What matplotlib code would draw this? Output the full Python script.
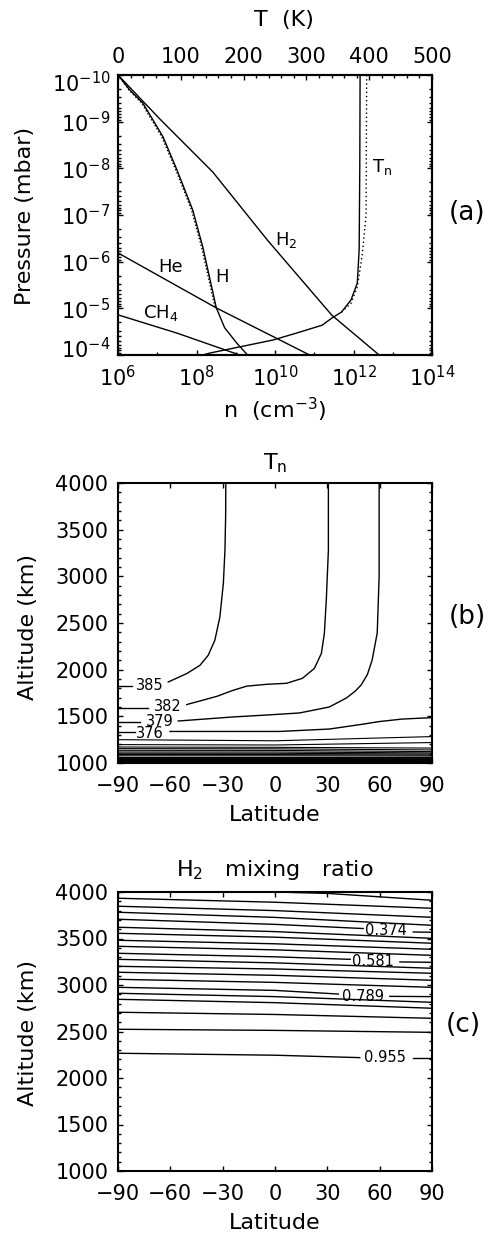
import numpy as np
import matplotlib
matplotlib.use("Agg")
import matplotlib.pyplot as plt
import matplotlib.transforms as mtransforms
from matplotlib.ticker import FixedLocator, NullFormatter, MultipleLocator, LogLocator

plt.rcParams['font.family'] = ['DejaVu Sans']
plt.rcParams['mathtext.fontset'] = 'dejavusans'

# ---------------- panel (a): density and temperature profiles ----------------
# number densities n (cm^-3) against pressure (mbar)
h2_n = [1e6, 1.2e7, 2.6e8, 6.5e9, 2.8e11, 4.5e12]
h2_p = [1e-10, 9.0e-10, 1.2e-8, 3.5e-7, 1.4e-5, 1e-4]

h_n = [1e6, 2.0e6, 4.3e6, 1.4e7, 3.2e7, 8.0e7, 1.45e8, 3.2e8, 5.2e8, 1.05e9, 2.0e9]
h_p = [1e-10, 2.1e-10, 4e-10, 2.1e-9, 1.1e-8, 7.8e-8, 4.9e-7, 9.8e-6, 2.6e-5, 5.5e-5, 1e-4]
h_dot_n = [1e6, 1.9e6, 4.0e6, 1.3e7, 3.0e7, 7.5e7, 1.35e8, 3.0e8]
h_dot_p = [1e-10, 2.1e-10, 4e-10, 2.1e-9, 1.1e-8, 7.8e-8, 4.9e-7, 9.8e-6]

he_n = [1e6, 3.2e8, 7.6e10]
he_p = [6.5e-7, 9.8e-6, 1e-4]

ch4_n = [1e6, 3.2e7, 1.26e9]
ch4_p = [1.38e-5, 3.4e-5, 1e-4]

# neutral temperature (K) against pressure, two model runs
tn_T = [385.5, 385, 384, 381, 371, 356, 341, 325, 284, 246, 146, 135]
tn_p = [1e-10, 1e-8, 5.6e-7, 2.9e-6, 6.6e-6, 1.2e-5, 1.6e-5, 2.3e-5, 3.4e-5, 4.8e-5, 9.1e-5, 1e-4]
tn_dot_T = [396, 395, 389, 381, 371, 356]
tn_dot_p = [1e-10, 1e-7, 7e-7, 3.5e-6, 7.8e-6, 1.2e-5]

# ---------------- panel (b): Tn contours (latitude, altitude km) ----------------
tn385_left_lat = [-90, -82.2]
tn385_left_alt = [1825, 1825]
tn385_lat = [-61.2, -50.6, -43, -38.3, -34.5, -31.6, -29.6, -28.7, -28.3, -28.2]
tn385_alt = [1868, 1958, 2047, 2154, 2314, 2564, 2925, 3279, 3636, 4000]

tn382_left_lat = [-90, -72.8]
tn382_left_alt = [1585, 1585]
tn382_lat = [-50.6, -33.2, -24, -16.3, -4.9, 6.6, 15.7, 22.6, 26.6, 28.3, 29.4, 30.6, 30.6]
tn382_alt = [1626, 1715, 1779, 1823, 1843, 1854, 1907, 2014, 2175, 2389, 2743, 3279, 4000]

tn379_left_lat = [-90, -77.4]
tn379_left_alt = [1442, 1442]
tn379_lat = [-55.5, -24.3, -4.9, 14, 31.1, 40.9, 46, 49.4, 53, 55.7, 58.6, 59.7, 59.7]
tn379_alt = [1450, 1493, 1514, 1536, 1600, 1696, 1770, 1836, 1950, 2104, 2393, 3000, 4000]

tn376_left_lat = [-90, -80.3]
tn376_left_alt = [1328, 1328]
tn376_lat = [-60.2, 2.6, 31.2, 50, 59.8, 73, 90]
tn376_alt = [1338, 1338, 1364, 1415, 1444, 1471, 1486]

# unlabelled levels below 376 K (altitude at 90S, equator, 90N)
band_lat = [-90, 0, 90]
band_alt_left = [1250, 1197, 1171, 1154, 1136, 1118, 1104, 1090, 1077, 1066, 1057, 1050,
                 1043, 1037, 1032, 1027, 1023, 1019, 1015, 1012, 1009, 1006, 1004, 1002]
band_alt_mid = [1238, 1193, 1168, 1152, 1135, 1118, 1104, 1090, 1077, 1066, 1057, 1050,
                1043, 1037, 1032, 1027, 1023, 1019, 1015, 1012, 1009, 1006, 1004, 1002]
band_alt_right = [1283, 1219, 1160, 1140, 1122, 1108, 1096, 1085, 1075, 1066, 1058, 1051,
                  1044, 1038, 1033, 1028, 1023, 1019, 1015, 1012, 1009, 1006, 1004, 1002]

tn_labels = ['385', '382', '379', '376']
tn_label_lat = [-71.7, -61.3, -65.9, -71.7]
tn_label_alt = [1832, 1608, 1447, 1316]

# ---------------- panel (c): H2 mixing ratio contours ----------------
h2_lat = [-90, 0, 90]
h2_alt_left = [2266, 2524, 2707, 2846, 2911, 2975, 3061, 3137, 3201, 3276,
               3341, 3416, 3481, 3556, 3621, 3707, 3782, 3847, 3933]
h2_alt_mid = [2245, 2512, 2683, 2810, 2875, 2942, 3028, 3104, 3172, 3238,
              3303, 3378, 3443, 3514, 3574, 3652, 3727, 3800, 3890]
h2_alt_right = [2212, 2491, 2642, 2750, 2814, 2875, 2975, 3051, 3126, 3180,
                3244, 3319, 3384, 3449, 3502, 3567, 3642, 3728, 3825]
h2_top_lat = [0, 30, 90]
h2_top_alt = [4000, 3985, 3911]

# labelled levels: index in the lists above, label, gap in the line
h2_label_idx = [0, 5, 10, 15]
h2_labels = ['0.955', '0.789', '0.581', '0.374']
h2_gap_lat0 = [48.6, 36.3, 43.1, 50.6]
h2_gap_alt0 = [2219, 2903, 3276, 3607]
h2_gap_lat1 = [79.1, 65.8, 71.6, 79.3]
h2_gap_alt1 = [2212, 2878, 3248, 3570]
h2_label_lat = [63.3, 50.2, 56.3, 63.5]
h2_label_alt = [2222, 2878, 3254, 3588]

lat_ticks = [-90, -60, -30, 0, 30, 60, 90]

W, H = 488.0, 1236.0
fig = plt.figure(figsize=(W / 100, H / 100), dpi=100)


def px(x, y):
    return x / W, 1 - y / H


def frame(ax):
    for s in ax.spines.values():
        s.set_linewidth(1.5)
    ax.tick_params(which='both', direction='in', width=1, labelsize=15)
    ax.tick_params(which='major', length=3.6)
    ax.tick_params(which='minor', length=2)


def nudge_end_labels(ax, dy=7):
    # pull the first and last y labels inside the frame, as in the original
    ticks = ax.yaxis.get_major_ticks()
    inv = ax.yaxis_inverted()
    lo, hi = (ticks[-1], ticks[0]) if inv else (ticks[0], ticks[-1])
    up = mtransforms.ScaledTranslation(0, dy / 100.0, fig.dpi_scale_trans)
    dn = mtransforms.ScaledTranslation(0, -dy / 100.0, fig.dpi_scale_trans)
    lo.label1.set_transform(lo.label1.get_transform() + up)
    hi.label1.set_transform(hi.label1.get_transform() + dn)


LW = 1.0
ax1 = fig.add_axes([118 / W, 1 - 355 / H, 314 / W, 280 / H])
ax1.set_xscale('log')
ax1.set_yscale('log')
ax1.plot(h2_n, h2_p, 'k-', lw=LW)
ax1.plot(h_n, h_p, 'k-', lw=LW)
ax1.plot(h_dot_n, h_dot_p, 'k', lw=LW, ls=(0, (1, 1.5)))
ax1.plot(he_n, he_p, 'k-', lw=LW)
ax1.plot(ch4_n, ch4_p, 'k-', lw=LW)
ax1.set_xlim(1e6, 1e14)
ax1.set_ylim(1e-4, 1e-10)
frame(ax1)
ax1.xaxis.set_major_locator(FixedLocator([1e6, 1e8, 1e10, 1e12, 1e14]))
ax1.xaxis.set_minor_locator(FixedLocator([1e7, 1e9, 1e11, 1e13]))
ax1.xaxis.set_minor_formatter(NullFormatter())
ax1.yaxis.set_major_locator(FixedLocator([1e-10, 1e-9, 1e-8, 1e-7, 1e-6, 1e-5, 1e-4]))
ax1.yaxis.set_minor_locator(LogLocator(base=10, subs=np.arange(2, 10) * 1.0, numticks=20))
ax1.yaxis.set_minor_formatter(NullFormatter())
ax1.tick_params(axis='x', which='both', bottom=True, top=False, pad=7)
ax1.tick_params(axis='y', which='both', left=True, right=True, pad=5.5)

axT = ax1.twiny()
axT.plot(tn_T, tn_p, 'k-', lw=LW)
axT.plot(tn_dot_T, tn_dot_p, 'k', lw=LW, ls=(0, (1, 2)))
axT.set_xlim(0, 500)
frame(axT)
axT.xaxis.set_major_locator(MultipleLocator(100))
axT.xaxis.set_minor_locator(MultipleLocator(20))
axT.tick_params(axis='x', which='both', top=True, bottom=False, pad=5.5)

ax1.text(1.9e10, 3.5e-7, 'H$_2$', fontsize=13, ha='center', va='center')
ax1.text(2.2e7, 1.3e-6, 'He', fontsize=13, ha='center', va='center')
ax1.text(4.4e8, 2.1e-6, 'H', fontsize=13, ha='center', va='center')
ax1.text(1.2e7, 1.23e-5, 'CH$_4$', fontsize=13, ha='center', va='center')
axT.text(420, 9.3e-9, 'T$_{\\rm n}$', fontsize=13, ha='center', va='center')
nudge_end_labels(ax1)

fig.text(*px(284, 20), 'T  (K)', fontsize=16, ha='center', va='center')
fig.text(*px(275, 410), 'n  (cm$^{-3}$)', fontsize=16, ha='center', va='center')
fig.text(*px(25, 216), 'Pressure (mbar)', fontsize=16, ha='center', va='center', rotation=90)
fig.text(*px(467, 213), '(a)', fontsize=19, ha='center', va='center')

# ---------------- panel (b) ----------------
ax2 = fig.add_axes([118 / W, 1 - 763 / H, 314 / W, 280 / H])
for a0, a1, a2 in zip(band_alt_left, band_alt_mid, band_alt_right):
    ax2.plot(band_lat, [a0, a1, a2], 'k-', lw=0.8)
for la, al in [(tn385_left_lat, tn385_left_alt), (tn385_lat, tn385_alt),
               (tn382_left_lat, tn382_left_alt), (tn382_lat, tn382_alt),
               (tn379_left_lat, tn379_left_alt), (tn379_lat, tn379_alt),
               (tn376_left_lat, tn376_left_alt), (tn376_lat, tn376_alt)]:
    ax2.plot(la, al, 'k-', lw=LW)
for lab, la, al in zip(tn_labels, tn_label_lat, tn_label_alt):
    ax2.text(la, al, lab, fontsize=10.5, ha='center', va='center')
ax2.set_xlim(-90, 90)
ax2.set_ylim(1000, 4000)
frame(ax2)
ax2.set_xticks(lat_ticks)
ax2.yaxis.set_major_locator(MultipleLocator(500))
ax2.yaxis.set_minor_locator(MultipleLocator(100))
ax2.tick_params(axis='x', which='both', top=True, bottom=True, pad=9)
ax2.tick_params(axis='y', which='both', left=True, right=True, pad=7)
nudge_end_labels(ax2)

fig.text(*px(275, 463), 'T$_{\\rm n}$', fontsize=16, ha='center', va='center')
fig.text(*px(275, 815), 'Latitude', fontsize=16, ha='center', va='center')
fig.text(*px(28, 627), 'Altitude (km)', fontsize=16, ha='center', va='center', rotation=90)
fig.text(*px(467, 617), '(b)', fontsize=19, ha='center', va='center')

# ---------------- panel (c) ----------------
ax3 = fig.add_axes([118 / W, 1 - 1171 / H, 314 / W, 279 / H])
for i, (a0, a1, a2) in enumerate(zip(h2_alt_left, h2_alt_mid, h2_alt_right)):
    if i in h2_label_idx:
        j = h2_label_idx.index(i)
        ax3.plot([-90, 0, h2_gap_lat0[j]], [a0, a1, h2_gap_alt0[j]], 'k-', lw=LW)
        ax3.plot([h2_gap_lat1[j], 90], [h2_gap_alt1[j], a2], 'k-', lw=LW)
        ax3.text(h2_label_lat[j], h2_label_alt[j], h2_labels[j], fontsize=10.5,
                 ha='center', va='center')
    else:
        ax3.plot(h2_lat, [a0, a1, a2], 'k-', lw=LW)
ax3.plot(h2_top_lat, h2_top_alt, 'k-', lw=LW)
ax3.set_xlim(-90, 90)
ax3.set_ylim(1000, 4000)
frame(ax3)
ax3.set_xticks(lat_ticks)
ax3.yaxis.set_major_locator(MultipleLocator(500))
ax3.yaxis.set_minor_locator(MultipleLocator(100))
ax3.tick_params(axis='x', which='both', top=True, bottom=True, pad=9)
ax3.tick_params(axis='y', which='both', left=True, right=True, pad=7)
nudge_end_labels(ax3)

fig.text(*px(275, 870), 'H$_2$   mixing   ratio', fontsize=16, ha='center', va='center')
fig.text(*px(275, 1223), 'Latitude', fontsize=16, ha='center', va='center')
fig.text(*px(28, 1033), 'Altitude (km)', fontsize=16, ha='center', va='center', rotation=90)
fig.text(*px(463, 1025), '(c)', fontsize=19, ha='center', va='center')

fig.savefig('out.png', dpi=100)
